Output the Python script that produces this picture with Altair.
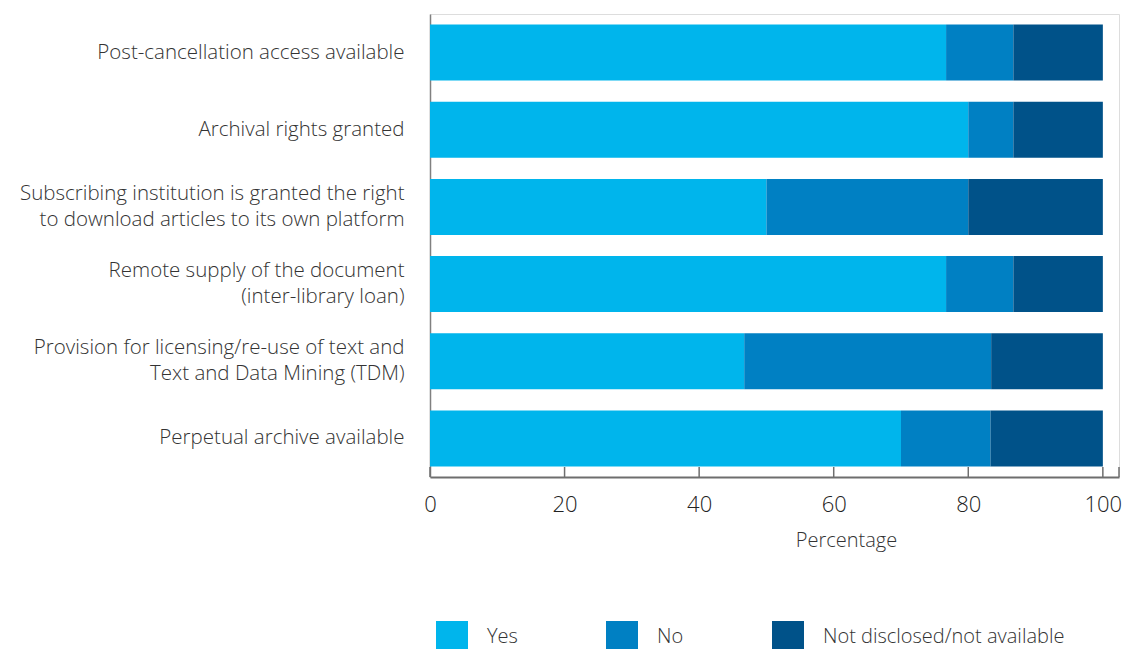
import altair as alt
import pandas as pd

categories = [
    "Post-cancellation access available",
    "Archival rights granted",
    "Subscribing institution is granted the right|to download articles to its own platform",
    "Remote supply of the document|(inter-library loan)",
    "Provision for licensing/re-use of text and|Text and Data Mining (TDM)",
    "Perpetual archive available",
]
yes_vals = [76.7, 80.0, 50.0, 76.7, 46.7, 70.0]
no_vals = [10.0, 6.7, 30.0, 10.0, 36.7, 13.3]
nd_vals = [13.3, 13.3, 20.0, 13.3, 16.6, 16.7]
series = ["Yes", "No", "Not disclosed/not available"]
colors = ["#00b5ec", "#0080c3", "#005289"]
x_ticks = [0, 20, 40, 60, 80, 100]

rows = []
for i, c in enumerate(categories):
    for j, (s, vals) in enumerate(zip(series, [yes_vals, no_vals, nd_vals])):
        rows.append({"category": c, "series": s, "value": vals[i], "order": j})
df = pd.DataFrame(rows)

W = 689
H = 463
FONT = "Open Sans"

bars = alt.Chart(df).mark_bar().encode(
    x=alt.X(
        "value:Q",
        stack="zero",
        title="Percentage",
        scale=alt.Scale(domain=[0, 102.4], nice=False),
        axis=alt.Axis(
            values=x_ticks,
            ticks=False,
            grid=False,
            labelFlush=False,
            domainColor="#6e6e6e",
            domainWidth=2,
            labelFont=FONT,
            labelFontSize=22,
            labelFontWeight=300,
            labelColor="#222222",
            labelPadding=17,
            titleFont=FONT,
            titleFontSize=20,
            titleFontWeight=300,
            titleColor="#333333",
            titleX=416,
            titleY=53,
            titleBaseline="top",
        ),
    ),
    y=alt.Y(
        "category:N",
        sort=categories,
        title=None,
        scale=alt.Scale(paddingInner=0.275, paddingOuter=0.1375),
        axis=alt.Axis(
            ticks=False,
            grid=False,
            labelExpr="split(datum.label, '|')",
            labelOffset={
                "condition": {"test": "indexof(datum.label, '|') >= 0", "value": -13},
                "value": 0,
            },
            labelFont=FONT,
            labelFontSize=20.5,
            labelFontWeight=300,
            labelColor="#333333",
            labelLineHeight=26,
            labelPadding=26,
            labelLimit=0,
            domainColor="#808080",
            domainWidth=1.5,
        ),
    ),
    color=alt.Color(
        "series:N",
        scale=alt.Scale(domain=series, range=colors),
        legend=alt.Legend(
            orient="none",
            legendX=6,
            legendY=607,
            direction="horizontal",
            title=None,
            symbolType="square",
            symbolSize=1024,
            symbolStrokeWidth=0,
            symbolOpacity=1,
            labelFont=FONT,
            labelFontSize=20,
            labelFontWeight=300,
            labelColor="#333333",
            labelOffset=19,
            columnPadding=88,
            labelLimit=0,
        ),
    ),
    order=alt.Order("order:Q"),
)

ticks = alt.Chart(pd.DataFrame({"t": x_ticks})).mark_rule(
    color="#6e6e6e", strokeWidth=1.5
).encode(
    x=alt.X("t:Q", title="Percentage"),
    y=alt.value(H - 10),
    y2=alt.value(H),
)

end_tick = alt.Chart(pd.DataFrame({"t": [0]})).mark_rule(
    color="#6e6e6e", strokeWidth=1.5
).encode(
    x=alt.value(W),
    y=alt.value(H - 10),
    y2=alt.value(H),
)

chart = alt.layer(bars, ticks, end_tick).properties(
    width=W,
    height=H,
    autosize=alt.AutoSizeParams(type="none"),
    padding={"left": 422, "top": 6, "right": 5, "bottom": 172},
).configure_view(stroke=None).configure(font=FONT)

chart.save("out.html", embed_options={"renderer": "svg", "actions": False})
